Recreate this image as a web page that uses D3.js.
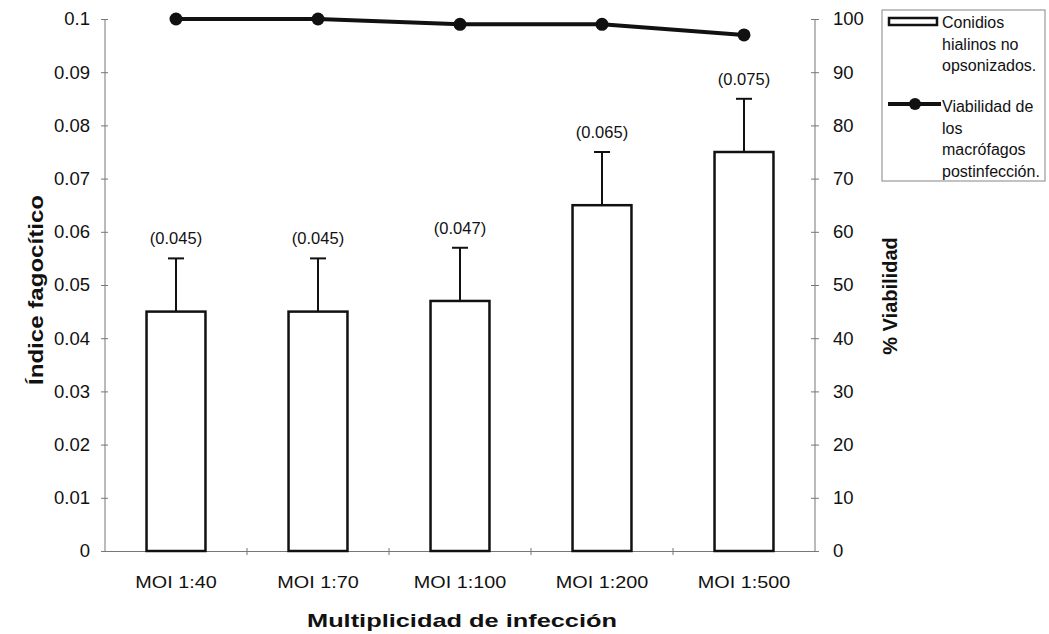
<!DOCTYPE html>
<html>
<head>
<meta charset="utf-8">
<script src="https://cdn.jsdelivr.net/npm/d3@7"></script>
<style>
  body { margin: 0; background: #fff; }
  svg { font-family: 'Liberation Sans', Arial, sans-serif; }
</style>
</head>
<body>
<svg></svg>
<script>
const categories = ['MOI 1:40', 'MOI 1:70', 'MOI 1:100', 'MOI 1:200', 'MOI 1:500']
const indice = [0.045, 0.045, 0.047, 0.065, 0.075]
const errorUp = [0.01, 0.01, 0.01, 0.01, 0.01]
const barLabels = ['(0.045)', '(0.045)', '(0.047)', '(0.065)', '(0.075)']
const viabilidad = [100, 100, 99, 99, 97]
const leftTicks = [0, 0.01, 0.02, 0.03, 0.04, 0.05, 0.06, 0.07, 0.08, 0.09, 0.1]
const rightTicks = [0, 10, 20, 30, 40, 50, 60, 70, 80, 90, 100]
const legendBar = ['Conidios', 'hialinos no', 'opsonizados.']
const legendLine = ['Viabilidad de', 'los', 'macrófagos', 'postinfección.']

const width = 1049
const height = 634
const plotLeft = 105
const plotRight = 815
const plotTop = 19
const plotBottom = 551

const svg = d3.select('svg')
              .attr('width', width)
              .attr('height', height)

const xScale = d3.scaleBand()
                 .domain(categories)
                 .range([plotLeft, plotRight])
                 .paddingInner(0)
const yLeft = d3.scaleLinear().domain([0, 0.1]).range([plotBottom, plotTop])
const yRight = d3.scaleLinear().domain([0, 100]).range([plotBottom, plotTop])

const barWidth = xScale.bandwidth() * 0.415
const axisColor = '#777'

// the scanned original is a bit wider than its font height, stretch some texts
const stretch = (sel, k) => sel.each(function() {
  const w = this.getComputedTextLength()
  d3.select(this).attr('textLength', w * k).attr('lengthAdjust', 'spacingAndGlyphs')
})

// left axis
const leftAxis = d3.axisLeft(yLeft)
                   .tickValues(leftTicks)
                   .tickFormat(d => d === 0 ? '0' : String(+d.toFixed(2)))
                   .tickSize(4)
                   .tickPadding(11)
svg.append('g')
   .attr('transform', `translate(${plotLeft}, 0)`)
   .call(leftAxis)
   .call(g => g.select('.domain').attr('stroke', axisColor).attr('d', `M0,${plotTop}V${plotBottom}`))
   .call(g => g.selectAll('.tick line').attr('x1', 3).attr('x2', -4).attr('stroke', axisColor))
   .call(g => g.selectAll('.tick text').style('font-size', '18.5px').attr('fill', '#111'))

// right axis
const rightAxis = d3.axisRight(yRight)
                    .tickValues(rightTicks)
                    .tickSize(4)
                    .tickPadding(14)
svg.append('g')
   .attr('transform', `translate(${plotRight}, 0)`)
   .call(rightAxis)
   .call(g => g.select('.domain').attr('stroke', axisColor).attr('d', `M0,${plotTop}V${plotBottom}`))
   .call(g => g.selectAll('.tick line').attr('x1', -4).attr('x2', 4).attr('stroke', axisColor))
   .call(g => g.selectAll('.tick text').style('font-size', '18.5px').attr('fill', '#111'))

// bottom axis
const xAxis = d3.axisBottom(xScale).tickSize(0).tickPadding(25)
svg.append('g')
   .attr('transform', `translate(0, ${plotBottom})`)
   .call(xAxis)
   .call(g => g.select('.domain').attr('stroke', axisColor))
   .call(g => g.selectAll('.tick text').style('font-size', '16.5px').attr('fill', '#111').call(stretch, 1.2))
svg.append('g')
   .selectAll('line')
   .data(categories.slice(1))
   .join('line')
   .attr('x1', d => xScale(d))
   .attr('x2', d => xScale(d))
   .attr('y1', plotBottom - 3)
   .attr('y2', plotBottom + 4)
   .attr('stroke', axisColor)

// bars
svg.append('g')
   .selectAll('rect')
   .data(indice)
   .join('rect')
   .attr('x', (d, i) => xScale(categories[i]) + (xScale.bandwidth() - barWidth) / 2)
   .attr('y', d => yLeft(d))
   .attr('width', barWidth)
   .attr('height', d => plotBottom - yLeft(d))
   .attr('fill', '#fff')
   .attr('stroke', '#111')
   .attr('stroke-width', 2.5)

// error bars
const cx = i => xScale(categories[i]) + xScale.bandwidth() / 2
const errs = svg.append('g')
                .attr('stroke', '#111')
                .attr('stroke-width', 2)
errs.selectAll('line.v')
    .data(indice)
    .join('line')
    .classed('v', true)
    .attr('x1', (d, i) => cx(i))
    .attr('x2', (d, i) => cx(i))
    .attr('y1', d => yLeft(d))
    .attr('y2', (d, i) => yLeft(d + errorUp[i]))
errs.selectAll('line.cap')
    .data(indice)
    .join('line')
    .classed('cap', true)
    .attr('x1', (d, i) => cx(i) - 8)
    .attr('x2', (d, i) => cx(i) + 8)
    .attr('y1', (d, i) => yLeft(d + errorUp[i]))
    .attr('y2', (d, i) => yLeft(d + errorUp[i]))

svg.append('g')
   .selectAll('text')
   .data(barLabels)
   .join('text')
   .attr('x', (d, i) => cx(i))
   .attr('y', (d, i) => yLeft(indice[i] + errorUp[i]) - 14)
   .attr('text-anchor', 'middle')
   .style('font-size', '16.5px')
   .attr('fill', '#111')
   .text(d => d)

// viability line
const line = d3.line()
               .x((d, i) => cx(i))
               .y(d => yRight(d))
svg.append('path')
   .datum(viabilidad)
   .attr('d', line)
   .attr('fill', 'none')
   .attr('stroke', '#111')
   .attr('stroke-width', 4)
svg.append('g')
   .selectAll('circle')
   .data(viabilidad)
   .join('circle')
   .attr('cx', (d, i) => cx(i))
   .attr('cy', d => yRight(d))
   .attr('r', 6.5)
   .attr('fill', '#111')

// axis titles
svg.append('text')
   .text('Índice fagocítico')
   .attr('transform', `translate(43, 290) rotate(-90)`)
   .attr('text-anchor', 'middle')
   .style('font-size', '20px')
   .style('font-weight', 'bold')
   .attr('fill', '#111')
   .attr('textLength', 190)
   .attr('lengthAdjust', 'spacingAndGlyphs')

svg.append('text')
   .text('% Viabilidad')
   .attr('transform', `translate(897, 296) rotate(-90)`)
   .attr('text-anchor', 'middle')
   .style('font-size', '20px')
   .style('font-weight', 'bold')
   .attr('fill', '#111')

svg.append('text')
   .text('Multiplicidad de infección')
   .attr('x', 462)
   .attr('y', 627)
   .attr('text-anchor', 'middle')
   .style('font-size', '19px')
   .style('font-weight', 'bold')
   .attr('fill', '#111')
   .attr('textLength', 310)
   .attr('lengthAdjust', 'spacingAndGlyphs')

// legend
const legend = svg.append('g')
legend.append('rect')
      .attr('x', 882).attr('y', 10)
      .attr('width', 163).attr('height', 171)
      .attr('fill', '#fff')
      .attr('stroke', '#999')
      .attr('stroke-width', 1.2)
legend.append('rect')
      .attr('x', 889).attr('y', 18)
      .attr('width', 48).attr('height', 7)
      .attr('fill', '#fff')
      .attr('stroke', '#111')
      .attr('stroke-width', 2.5)
legend.append('line')
      .attr('x1', 888).attr('x2', 941)
      .attr('y1', 104).attr('y2', 104)
      .attr('stroke', '#111')
      .attr('stroke-width', 4)
legend.append('circle')
      .attr('cx', 915).attr('cy', 104)
      .attr('r', 6)
      .attr('fill', '#111')
legend.selectAll('text.a')
      .data(legendBar)
      .join('text')
      .classed('a', true)
      .attr('x', 942)
      .attr('y', (d, i) => 28 + i * 21.5)
      .style('font-size', '16px')
      .attr('fill', '#111')
      .text(d => d)
legend.selectAll('text.b')
      .data(legendLine)
      .join('text')
      .classed('b', true)
      .attr('x', 942)
      .attr('y', (d, i) => 112 + i * 21.5)
      .style('font-size', '16px')
      .attr('fill', '#111')
      .text(d => d)
</script>
</body>
</html>
